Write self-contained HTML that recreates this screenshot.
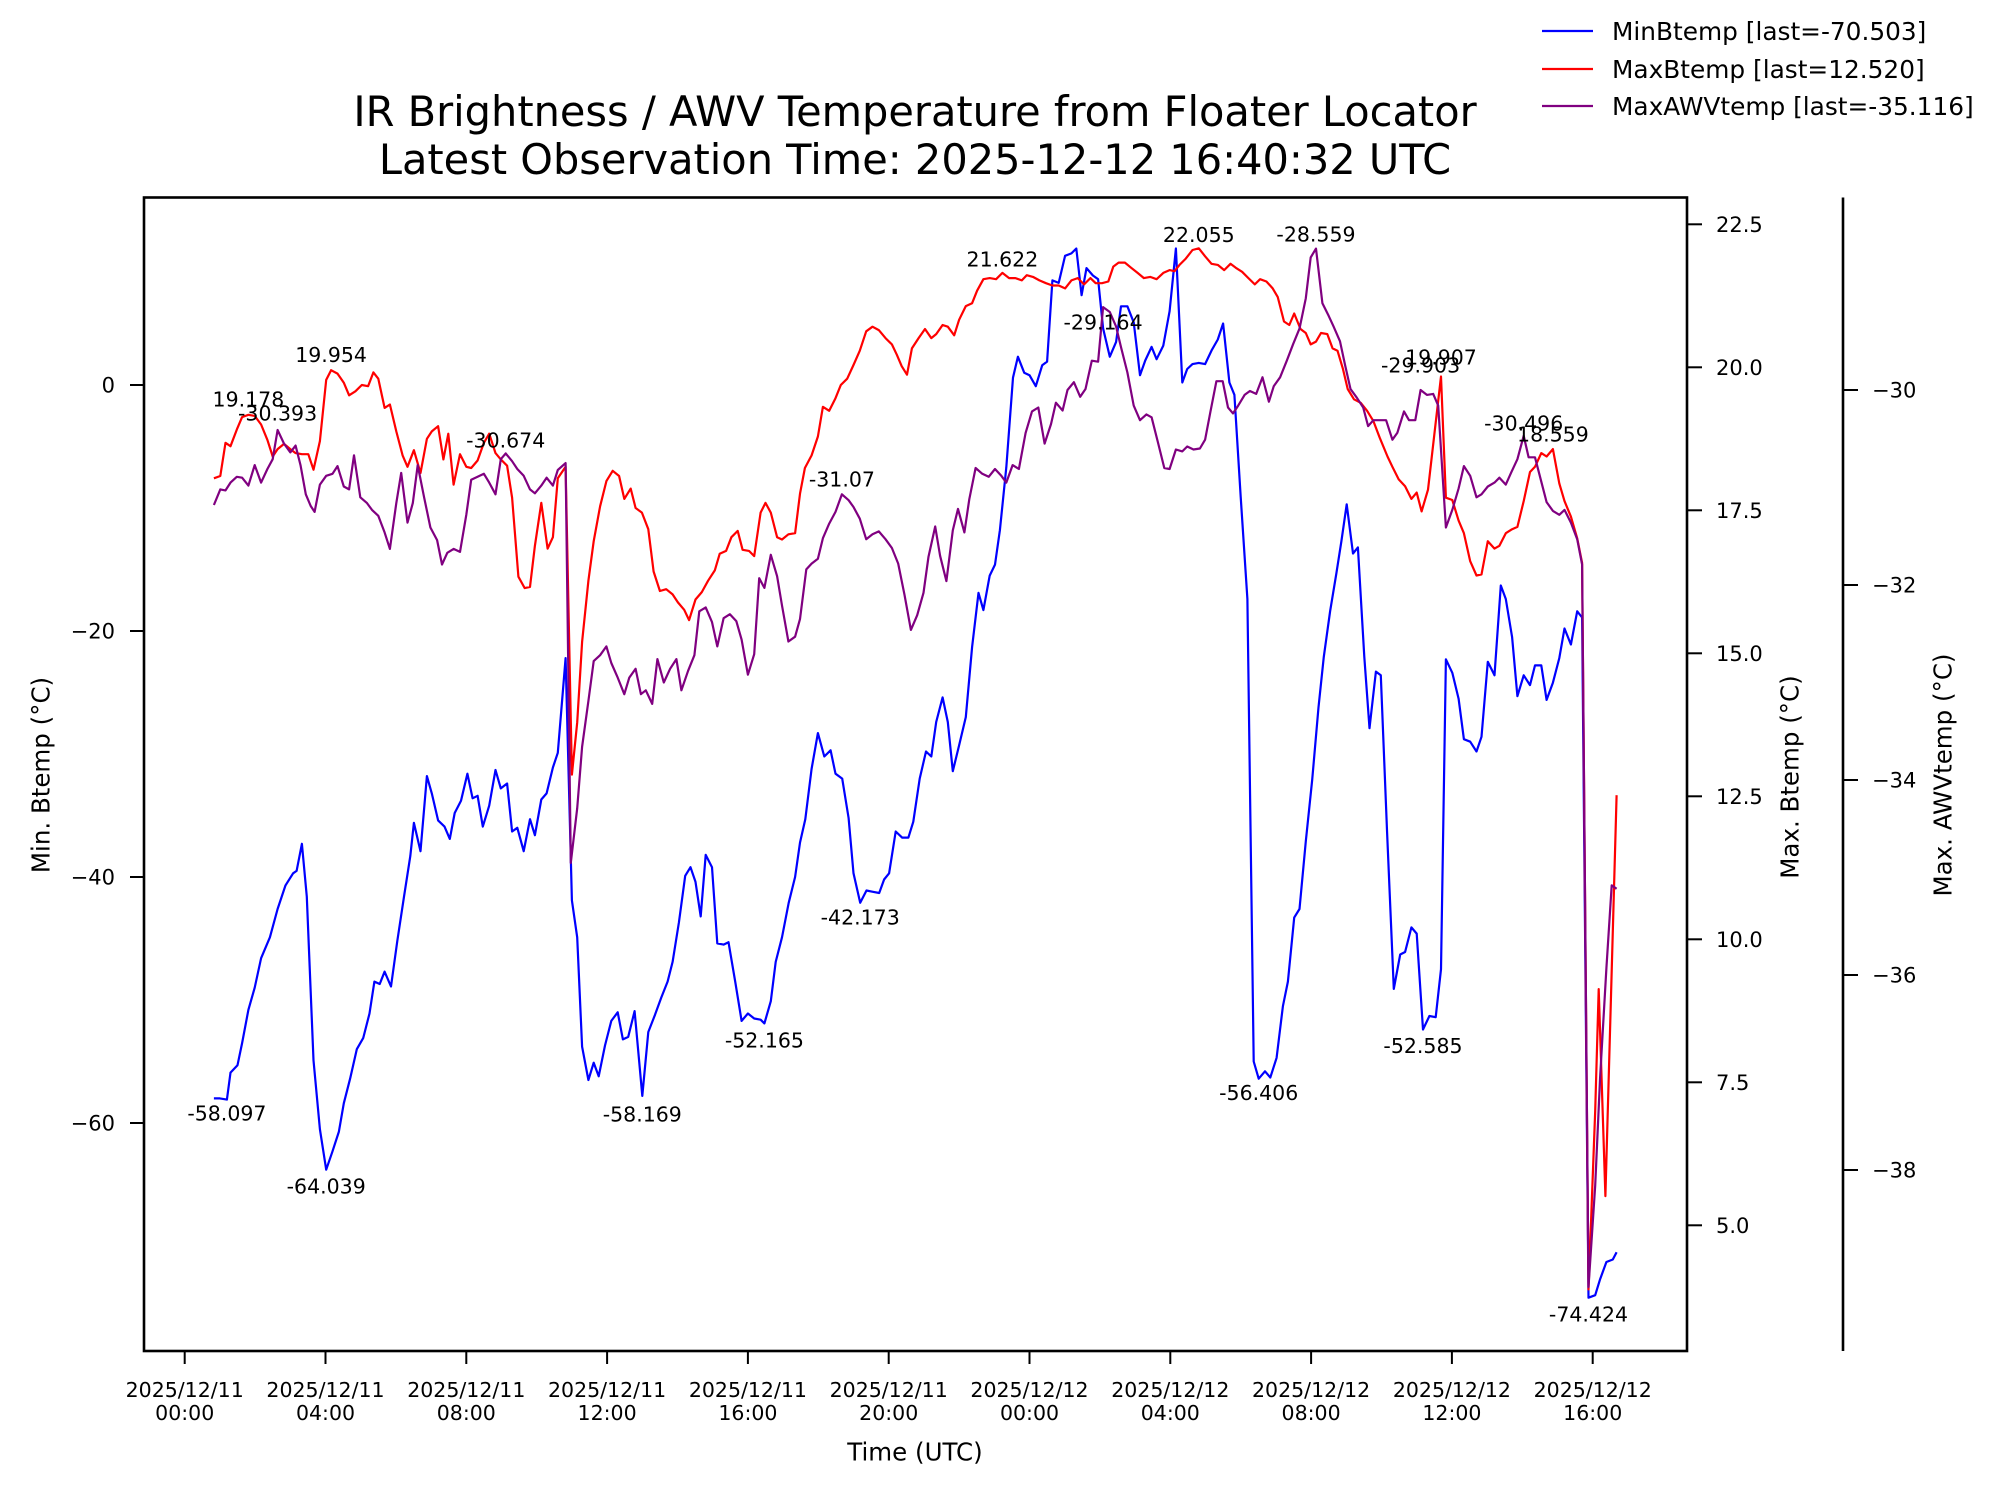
<!DOCTYPE html>
<html><head><meta charset="utf-8"><style>
html,body{margin:0;padding:0;background:#fff;}
svg text{font-family:"DejaVu Sans","Liberation Sans",sans-serif;fill:#000;}
</style></head><body>
<svg id="chart" xmlns="http://www.w3.org/2000/svg" width="1998" height="1495" viewBox="0 0 1998 1495">
<rect x="0" y="0" width="1998" height="1495" fill="#fff"/>
<g id="title">
<text x="915" y="126" font-size="41.5" text-anchor="middle">IR Brightness / AWV Temperature from Floater Locator</text>
<text x="915" y="174" font-size="41.5" text-anchor="middle">Latest Observation Time: 2025-12-12 16:40:32 UTC</text>
</g>
<g id="series"></g>
<g id="ann"></g>
<g id="axes"></g>
<g id="legend">
<line x1="1542" y1="31" x2="1593" y2="31" stroke="#0000ff" stroke-width="2.2"/>
<text x="1612" y="40" font-size="24.8">MinBtemp [last=-70.503]</text>
<line x1="1542" y1="69" x2="1593" y2="69" stroke="#ff0000" stroke-width="2.2"/>
<text x="1612" y="78" font-size="24.8">MaxBtemp [last=12.520]</text>
<line x1="1542" y1="106" x2="1593" y2="106" stroke="#800080" stroke-width="2.2"/>
<text x="1612" y="115" font-size="24.8">MaxAWVtemp [last=-35.116]</text>
</g>
</svg>
<script>
// ---- data (hours since 2025-12-11 00:00 UTC) ----
const blueT=[0.83,1.0,1.2,1.3,1.5,1.63,1.81,1.99,2.17,2.42,2.64,2.86,3.08,3.18,3.33,3.47,3.66,3.84,4.02,4.2,4.38,4.52,4.7,4.89,5.07,5.25,5.39,5.54,5.68,5.86,6.04,6.23,6.41,6.51,6.7,6.88,7.02,7.2,7.38,7.53,7.67,7.85,8.03,8.18,8.32,8.47,8.65,8.83,8.98,9.16,9.3,9.45,9.63,9.81,9.95,10.13,10.28,10.46,10.6,10.82,11.0,11.15,11.29,11.47,11.62,11.76,11.94,12.12,12.3,12.45,12.6,12.78,13.0,13.17,13.36,13.54,13.72,13.86,14.04,14.22,14.37,14.51,14.66,14.8,14.98,15.13,15.31,15.45,15.64,15.82,16.0,16.18,16.36,16.47,16.65,16.79,16.97,17.16,17.34,17.48,17.63,17.81,17.99,18.17,18.35,18.49,18.68,18.86,19.0,19.19,19.37,19.55,19.73,19.87,20.01,20.2,20.38,20.56,20.7,20.88,21.06,21.21,21.35,21.53,21.68,21.82,22.0,22.19,22.37,22.55,22.69,22.87,23.02,23.16,23.34,23.53,23.67,23.85,24.0,24.18,24.36,24.5,24.65,24.83,25.01,25.19,25.33,25.48,25.62,25.8,25.95,26.09,26.28,26.46,26.6,26.78,26.96,27.14,27.29,27.47,27.61,27.8,27.98,28.16,28.34,28.48,28.63,28.81,28.99,29.17,29.35,29.5,29.68,29.82,30.0,30.19,30.37,30.51,30.69,30.84,31.02,31.2,31.34,31.52,31.67,31.85,32.03,32.21,32.36,32.54,32.72,32.86,33.01,33.19,33.33,33.51,33.66,33.84,33.98,34.16,34.35,34.53,34.67,34.85,35.0,35.18,35.36,35.54,35.69,35.83,36.01,36.19,36.34,36.52,36.7,36.84,37.02,37.21,37.39,37.53,37.71,37.86,38.04,38.22,38.36,38.54,38.69,38.87,39.05,39.2,39.38,39.56,39.7,39.88,40.07,40.21,40.39,40.57,40.68];
const blueV=[-58.0,-58.0,-58.1,-55.9,-55.3,-53.5,-50.8,-49.0,-46.6,-44.9,-42.6,-40.7,-39.7,-39.5,-37.3,-41.6,-54.9,-60.5,-63.8,-62.3,-60.7,-58.4,-56.4,-54.0,-53.1,-51.1,-48.5,-48.7,-47.7,-48.9,-45.2,-41.6,-38.3,-35.6,-37.9,-31.8,-33.2,-35.4,-35.9,-36.9,-34.8,-33.8,-31.6,-33.6,-33.4,-35.9,-34.2,-31.3,-32.8,-32.4,-36.3,-36.0,-37.9,-35.3,-36.6,-33.7,-33.2,-31.1,-29.9,-22.2,-41.9,-44.9,-53.8,-56.5,-55.1,-56.2,-53.7,-51.7,-51.0,-53.2,-53.0,-50.9,-57.8,-52.6,-51.2,-49.8,-48.5,-46.9,-43.7,-39.9,-39.2,-40.4,-43.2,-38.2,-39.2,-45.4,-45.5,-45.3,-48.5,-51.7,-51.1,-51.5,-51.6,-51.9,-50.1,-46.9,-44.9,-42.1,-40.0,-37.2,-35.3,-31.2,-28.3,-30.2,-29.7,-31.6,-32.0,-35.2,-39.7,-42.1,-41.1,-41.2,-41.3,-40.2,-39.7,-36.3,-36.8,-36.8,-35.5,-32.0,-29.8,-30.2,-27.4,-25.4,-27.4,-31.4,-29.3,-27.0,-21.3,-16.9,-18.3,-15.5,-14.6,-11.8,-6.7,0.6,2.3,1.0,0.8,-0.1,1.6,1.9,8.5,8.3,10.5,10.7,11.1,7.3,9.5,8.9,8.6,4.6,2.3,3.5,6.4,6.4,5.1,0.8,2.0,3.1,2.1,3.2,6.0,11.1,0.2,1.3,1.7,1.8,1.7,2.8,3.7,5.0,0.2,-0.8,-9.1,-17.4,-55.0,-56.4,-55.8,-56.3,-54.7,-50.5,-48.5,-43.3,-42.6,-37.1,-32.1,-26.2,-22.1,-18.4,-15.3,-12.7,-9.7,-13.7,-13.2,-22.1,-27.9,-23.3,-23.6,-36.4,-49.1,-46.3,-46.1,-44.1,-44.6,-52.4,-51.3,-51.4,-47.5,-22.3,-23.4,-25.5,-28.8,-29.0,-29.8,-28.6,-22.5,-23.6,-16.3,-17.4,-20.5,-25.3,-23.6,-24.4,-22.8,-22.8,-25.6,-24.2,-22.2,-19.8,-21.1,-18.4,-18.9,-74.2,-74.0,-72.7,-71.3,-71.1,-70.503];
const redT=[0.83,1.01,1.16,1.30,1.48,1.63,1.81,1.99,2.17,2.35,2.50,2.64,2.82,3.00,3.15,3.33,3.51,3.66,3.84,4.02,4.16,4.34,4.52,4.67,4.85,5.03,5.21,5.36,5.50,5.68,5.83,6.01,6.19,6.33,6.51,6.70,6.88,7.02,7.20,7.35,7.49,7.64,7.82,8.00,8.14,8.32,8.50,8.65,8.83,8.98,9.16,9.30,9.48,9.66,9.81,9.95,10.13,10.31,10.46,10.60,10.82,11.00,11.15,11.29,11.47,11.62,11.80,11.98,12.16,12.34,12.49,12.67,12.81,12.99,13.17,13.32,13.50,13.68,13.86,14.01,14.19,14.33,14.51,14.69,14.87,15.06,15.20,15.38,15.53,15.71,15.85,16.03,16.18,16.36,16.50,16.65,16.83,16.97,17.15,17.34,17.48,17.62,17.81,17.99,18.13,18.31,18.49,18.64,18.82,19.00,19.18,19.36,19.54,19.72,19.91,20.09,20.23,20.37,20.52,20.66,20.85,21.03,21.21,21.35,21.53,21.68,21.86,22.00,22.19,22.37,22.51,22.69,22.87,23.05,23.23,23.42,23.60,23.78,23.92,24.10,24.28,24.47,24.65,24.83,25.01,25.19,25.37,25.55,25.73,25.88,26.06,26.24,26.38,26.53,26.71,26.89,27.07,27.25,27.43,27.61,27.80,27.98,28.12,28.26,28.44,28.63,28.81,28.99,29.17,29.35,29.53,29.71,29.86,30.04,30.22,30.40,30.55,30.73,30.91,31.05,31.23,31.38,31.52,31.70,31.85,31.99,32.14,32.28,32.46,32.61,32.75,32.90,33.04,33.22,33.41,33.59,33.77,33.95,34.17,34.31,34.49,34.67,34.85,35.00,35.14,35.32,35.50,35.69,35.83,36.01,36.19,36.34,36.52,36.70,36.84,37.02,37.21,37.35,37.53,37.71,37.86,38.04,38.22,38.36,38.54,38.69,38.87,39.05,39.20,39.38,39.56,39.70,39.88,40.07,40.17,40.36,40.50,40.68];
const redV=[18.06,18.10,18.68,18.62,18.91,19.13,19.17,19.15,19.0,18.73,18.44,18.57,18.66,18.57,18.5,18.48,18.48,18.21,18.71,19.78,19.95,19.89,19.73,19.51,19.58,19.69,19.67,19.91,19.8,19.29,19.35,18.88,18.46,18.26,18.55,18.15,18.75,18.88,18.97,18.39,18.84,17.95,18.48,18.26,18.24,18.37,18.68,18.84,18.5,18.39,18.28,17.72,16.34,16.14,16.16,16.88,17.63,16.83,17.03,18.06,18.26,12.88,13.79,15.2,16.27,16.96,17.57,18.01,18.19,18.1,17.7,17.88,17.54,17.46,17.17,16.43,16.09,16.12,16.03,15.89,15.76,15.58,15.94,16.07,16.27,16.45,16.74,16.79,17.03,17.14,16.81,16.79,16.7,17.46,17.63,17.46,17.03,16.99,17.08,17.1,17.79,18.24,18.46,18.79,19.31,19.24,19.46,19.69,19.8,20.04,20.29,20.63,20.71,20.65,20.51,20.4,20.22,20.02,19.87,20.33,20.51,20.67,20.51,20.58,20.74,20.71,20.56,20.83,21.07,21.12,21.34,21.54,21.56,21.54,21.65,21.56,21.56,21.52,21.61,21.58,21.52,21.47,21.43,21.43,21.38,21.52,21.56,21.45,21.56,21.47,21.47,21.5,21.76,21.83,21.83,21.74,21.65,21.56,21.58,21.54,21.65,21.7,21.68,21.79,21.9,22.05,22.08,21.94,21.81,21.79,21.7,21.81,21.74,21.67,21.56,21.45,21.54,21.5,21.38,21.23,20.8,20.74,20.94,20.67,20.6,20.4,20.45,20.6,20.58,20.33,20.29,19.98,19.62,19.44,19.38,19.24,19.06,18.77,18.44,18.26,18.04,17.92,17.7,17.81,17.48,17.86,18.82,19.84,17.72,17.68,17.32,17.1,16.61,16.36,16.38,16.96,16.83,16.88,17.1,17.17,17.21,17.66,18.17,18.26,18.5,18.44,18.57,17.97,17.66,17.39,17.01,16.58,3.88,7.0,9.13,5.51,8.57,12.52];
const purpT=[0.83,1.01,1.16,1.30,1.48,1.63,1.81,1.99,2.17,2.35,2.50,2.64,2.82,3.00,3.15,3.29,3.44,3.58,3.69,3.84,4.02,4.20,4.34,4.52,4.67,4.81,4.99,5.18,5.32,5.50,5.68,5.83,6.01,6.15,6.33,6.48,6.62,6.80,6.98,7.17,7.31,7.46,7.64,7.82,8.00,8.14,8.32,8.50,8.65,8.83,8.98,9.12,9.30,9.45,9.63,9.81,9.95,10.13,10.28,10.46,10.60,10.82,10.97,11.15,11.29,11.47,11.62,11.80,11.98,12.12,12.30,12.49,12.63,12.81,12.96,13.10,13.28,13.43,13.61,13.79,13.97,14.11,14.30,14.48,14.62,14.80,14.98,15.13,15.31,15.49,15.67,15.82,16.00,16.18,16.32,16.47,16.65,16.83,16.97,17.15,17.34,17.48,17.66,17.81,17.99,18.13,18.31,18.49,18.67,18.86,19.00,19.18,19.36,19.54,19.72,19.91,20.09,20.27,20.45,20.63,20.81,20.99,21.13,21.32,21.46,21.64,21.82,21.97,22.15,22.29,22.47,22.66,22.84,23.02,23.20,23.34,23.52,23.70,23.89,24.07,24.25,24.43,24.61,24.75,24.94,25.08,25.26,25.44,25.59,25.77,25.95,26.09,26.28,26.46,26.60,26.78,26.96,27.14,27.32,27.47,27.65,27.83,27.98,28.16,28.34,28.48,28.66,28.84,28.99,29.13,29.31,29.49,29.64,29.78,29.93,30.11,30.26,30.44,30.62,30.80,30.94,31.12,31.31,31.49,31.67,31.85,31.99,32.14,32.32,32.50,32.64,32.82,32.97,33.12,33.30,33.48,33.62,33.77,33.95,34.13,34.31,34.45,34.64,34.78,34.96,35.11,35.29,35.47,35.61,35.83,36.01,36.19,36.34,36.52,36.70,36.84,37.02,37.21,37.35,37.53,37.68,37.86,38.04,38.18,38.36,38.54,38.69,38.87,39.05,39.20,39.38,39.56,39.70,39.88,40.07,40.21,40.39,40.54,40.68];
const purpV=[-31.18,-31.02,-31.03,-30.95,-30.89,-30.9,-30.98,-30.77,-30.95,-30.81,-30.71,-30.41,-30.55,-30.64,-30.57,-30.77,-31.07,-31.19,-31.25,-30.97,-30.88,-30.86,-30.78,-30.99,-31.02,-30.67,-31.1,-31.16,-31.23,-31.29,-31.46,-31.63,-31.16,-30.85,-31.36,-31.16,-30.77,-31.1,-31.41,-31.54,-31.79,-31.67,-31.63,-31.66,-31.28,-30.92,-30.89,-30.86,-30.95,-31.07,-30.71,-30.65,-30.73,-30.81,-30.88,-31.02,-31.06,-30.98,-30.9,-30.98,-30.82,-30.75,-34.85,-34.29,-33.66,-33.19,-32.78,-32.72,-32.63,-32.8,-32.95,-33.12,-32.95,-32.86,-33.12,-33.08,-33.22,-32.76,-33.0,-32.86,-32.76,-33.08,-32.88,-32.72,-32.27,-32.23,-32.38,-32.63,-32.34,-32.3,-32.37,-32.56,-32.92,-32.71,-31.93,-32.03,-31.69,-31.91,-32.21,-32.58,-32.53,-32.35,-31.84,-31.78,-31.73,-31.52,-31.37,-31.25,-31.07,-31.13,-31.2,-31.32,-31.53,-31.48,-31.45,-31.53,-31.62,-31.78,-32.1,-32.46,-32.31,-32.08,-31.71,-31.4,-31.7,-31.96,-31.44,-31.22,-31.46,-31.12,-30.8,-30.86,-30.89,-30.81,-30.88,-30.95,-30.77,-30.81,-30.44,-30.22,-30.18,-30.55,-30.35,-30.13,-30.21,-30.0,-29.92,-30.07,-29.99,-29.7,-29.71,-29.15,-29.2,-29.35,-29.56,-29.82,-30.16,-30.31,-30.25,-30.28,-30.54,-30.8,-30.81,-30.61,-30.63,-30.58,-30.61,-30.6,-30.51,-30.24,-29.91,-29.91,-30.18,-30.24,-30.16,-30.05,-30.01,-30.04,-29.87,-30.12,-29.96,-29.87,-29.7,-29.53,-29.37,-29.06,-28.64,-28.55,-29.11,-29.24,-29.35,-29.5,-29.75,-29.99,-30.08,-30.18,-30.37,-30.31,-30.31,-30.31,-30.51,-30.44,-30.22,-30.31,-30.31,-30.0,-30.05,-30.04,-30.16,-31.41,-31.23,-31.01,-30.78,-30.88,-31.1,-31.07,-30.99,-30.95,-30.9,-30.97,-30.85,-30.71,-30.47,-30.69,-30.69,-30.94,-31.15,-31.24,-31.28,-31.23,-31.36,-31.53,-31.79,-39.2,-38.16,-37.05,-35.93,-35.08,-35.116];
// annotations
const annText=["-58.097","19.178","-30.393","19.954","-64.039","-30.674","-58.169","-42.173","-31.07","-52.165","21.622","-29.164","22.055","-28.559","-56.406","-29.903","19.907","-52.585","-30.496","18.559","-74.424"];
const annSeries=["min","max","awv","max","min","awv","min","min","awv","min","max","awv","max","awv","min","awv","max","min","awv","max","min"];
const annTime=[1.2,1.81,2.64,4.16,4.02,9.12,13.0,19.19,18.67,16.47,23.23,26.09,28.81,32.14,30.51,35.11,35.69,35.18,38.04,38.87,39.88];
const annValue=[-58.097,19.178,-30.393,19.954,-64.039,-30.674,-58.169,-42.173,-31.07,-52.165,21.622,-29.164,22.055,-28.559,-56.406,-29.903,19.907,-52.585,-30.496,18.559,-74.424];
const annPos=["below","above","above","above","below","above","below","below","above","below","above","below","above","above","below","above","above","below","above","above","below"];
// ticks
const xTickHours=[0,4,8,12,16,20,24,28,32,36,40];
const xTickDate=["2025/12/11","2025/12/11","2025/12/11","2025/12/11","2025/12/11","2025/12/11","2025/12/12","2025/12/12","2025/12/12","2025/12/12","2025/12/12"];
const xTickTime=["00:00","04:00","08:00","12:00","16:00","20:00","00:00","04:00","08:00","12:00","16:00"];
const yLeftTicks=[0,-20,-40,-60];
const yRightTicks=[5.0,7.5,10.0,12.5,15.0,17.5,20.0,22.5];
const yAwvTicks=[-30,-32,-34,-36,-38];

const NS="http://www.w3.org/2000/svg";
const L=144,R=1687,T=197.5,B=1351,AX3=1843;
const xS=h=>184.7+h*35.2;
const yMin=v=>385-v*12.3;
const yMax=v=>367.3-(v-20)*57.2;
const yAwv=v=>390-(v+30)*97.5;
const scaleOf={min:yMin,max:yMax,awv:yAwv};
function mk(tag,attrs,parent){const e=document.createElementNS(NS,tag);for(const k in attrs)e.setAttribute(k,attrs[k]);parent.appendChild(e);return e;}
const gS=document.getElementById('series'),gA=document.getElementById('ann'),gX=document.getElementById('axes');
function drawLine(ts,vs,ys,color,name){
  const d=ts.map((t,i)=>(i?'L':'M')+xS(t).toFixed(1)+','+ys(vs[i]).toFixed(1)).join(' ');
  const p=mk('path',{d:d,fill:'none',stroke:color,'stroke-width':2.2,'stroke-linejoin':'round'},gS);
  
  
}
drawLine(blueT,blueV,yMin,'#0000ff','minbtemp-line');
drawLine(redT,redV,yMax,'#ff0000','maxbtemp-line');
drawLine(purpT,purpV,yAwv,'#800080','maxawvtemp-line');
annText.forEach((s,i)=>{
  const y=scaleOf[annSeries[i]](annValue[i]);
  const t=mk('text',{x:xS(annTime[i]).toFixed(1),y:(annPos[i]==='above'?y-8:y+21).toFixed(1),'font-size':20.5,'text-anchor':'middle'},gA);
  t.textContent=s;
  
  
});
// frame
const fr=mk('rect',{x:L,y:T,width:R-L,height:B-T,fill:'none',stroke:'#000','stroke-width':2.6},gX);


const sp=mk('line',{x1:AX3,y1:T,x2:AX3,y2:B,stroke:'#000','stroke-width':2.6},gX);


xTickHours.forEach((h,i)=>{
  const x=xS(h);
  const tk=mk('line',{x1:x,y1:B,x2:x,y2:B+13,stroke:'#000','stroke-width':2},gX);
  
  
  const t=mk('text',{x:x,y:1397,'font-size':20.5,'text-anchor':'middle'},gX);
  t.textContent=xTickDate[i];
  
  
  const t2=mk('text',{x:x,y:1420,'font-size':20.5,'text-anchor':'middle'},gX);
  t2.textContent=xTickTime[i];
  
  
});
yLeftTicks.forEach(v=>{
  const y=yMin(v);
  const tk=mk('line',{x1:L-14,y1:y,x2:L,y2:y,stroke:'#000','stroke-width':2},gX);
  
  
  const t=mk('text',{x:L-29,y:y+7.5,'font-size':21,'text-anchor':'end'},gX);
  t.textContent=v<0?'\u2212'+Math.abs(v):String(v);
  
  
});
yRightTicks.forEach(v=>{
  const y=yMax(v);
  const tk=mk('line',{x1:R,y1:y,x2:R+15,y2:y,stroke:'#000','stroke-width':2},gX);
  
  
  const t=mk('text',{x:R+29,y:y+7.5,'font-size':21},gX);
  t.textContent=v.toFixed(1);
  
  
});
yAwvTicks.forEach(v=>{
  const y=yAwv(v);
  const tk=mk('line',{x1:AX3,y1:y,x2:AX3+15,y2:y,stroke:'#000','stroke-width':2},gX);
  
  
  const t=mk('text',{x:AX3+29,y:y+7.5,'font-size':21},gX);
  t.textContent='\u2212'+Math.abs(v);
  
  
});
function axLabel(x,y,rot,s,name){
  const t=mk('text',{x:x,y:y,'font-size':24.5,'text-anchor':'middle','dominant-baseline':'central',transform:rot?`rotate(-90 ${x} ${y})`:''},gX);
  t.textContent=s;
  
  
}
axLabel(915,1452,false,'Time (UTC)','x-axis-title');
axLabel(41,775,true,'Min. Btemp (°C)','y-left-axis-title');
axLabel(1790,777,true,'Max. Btemp (°C)','y-right-axis-title');
axLabel(1943,775,true,'Max. AWVtemp (°C)','y-awv-axis-title');
</script>
</body></html>
